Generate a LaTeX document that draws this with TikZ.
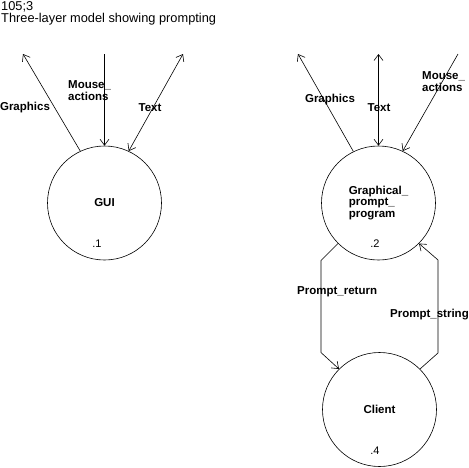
\documentclass[tikz,border=0pt]{standalone}
\usepackage{fontspec}
\setmainfont{Liberation Sans}
\setsansfont{Liberation Sans}
\usepackage{tikz}
\usetikzlibrary{arrows.meta}
\definecolor{ink}{HTML}{000000}
\definecolor{paper}{HTML}{FFFFFF}
\tikzset{
  proc/.style={circle,draw=ink,line width=0.6pt,minimum size=114pt,inner sep=0pt,
    font=\bfseries\fontsize{11.5}{11.5}\selectfont,align=left},
  flowlab/.style={font=\bfseries\fontsize{11.5}{12}\selectfont,color=ink,align=left,inner sep=0pt},
  flow/.style={draw=ink,line width=0.6pt,>={Straight Barb[length=6pt,width=9pt]}}
}

\begin{document}
\begin{tikzpicture}[x=1pt,y=-1pt,font=\sffamily]
  \useasboundingbox (0,0) rectangle (469,467);
  \fill[paper] (0,0) rectangle (469,467);
  \node[anchor=base west,inner sep=0pt,font=\fontsize{12.8}{14}\selectfont] (ref) at (1,10) {105;3};
  \node[anchor=base west,inner sep=0pt,font=\fontsize{12.8}{14}\selectfont] (title) at (1,22) {Three-layer model showing prompting};

  \node[proc] (gui) at (104.5,203) {GUI};
  \node[proc] (gpp) at (378.5,203) {Graphical\_\\prompt\_\\program\hspace*{5pt}};
  \node[proc] (client) at (379.5,409.5) {Client};
  \foreach \p/\x/\y/\n in {gui/97/244/1,gpp/375/244/2,client/375/451/4}
    \node[font=\fontsize{11}{12}\selectfont,inner sep=0pt] (\p-num) at (\x,\y) {.\n};

  \foreach \c/\x in {g1/23,m1/104.5,t1/183,g2/298,t2/378.5,m2/458}
    \coordinate (\c) at (\x,54);

  \draw[flow,->] (gui.115.7) -- (g1);
  \draw[flow,->] (m1) -- (gui.north);
  \draw[flow,<->] (t1) -- (gui.65.7);
  \draw[flow,->] (gpp.116) -- (g2);
  \draw[flow,<->] (t2) -- (gpp.north);
  \draw[flow,->] (m2) -- (gpp.65);
  \draw[flow,->] (gpp.225) -- ++(-17,17) -- ++(0,92) -- (client.135);
  \draw[flow,->] (client.45) -- ++(18,-16) -- ++(0,-93) -- (gpp.-45);

  \foreach \l/\x/\y/\a/\t in {
    lg1/25/108/center/{Graphics},
    lm1/68/91/west/{Mouse\_\\actions},
    lt1/150/108/center/{Text},
    lg2/330/100/center/{Graphics},
    lt2/379/108/center/{Text},
    lm2/422/82/west/{Mouse\_\\actions},
    lpr/297/292/west/{Prompt\_return},
    lps/390/315/west/{Prompt\_string}}
    \node[flowlab,anchor=\a] (\l) at (\x,\y) {\t};
\end{tikzpicture}
\end{document}
